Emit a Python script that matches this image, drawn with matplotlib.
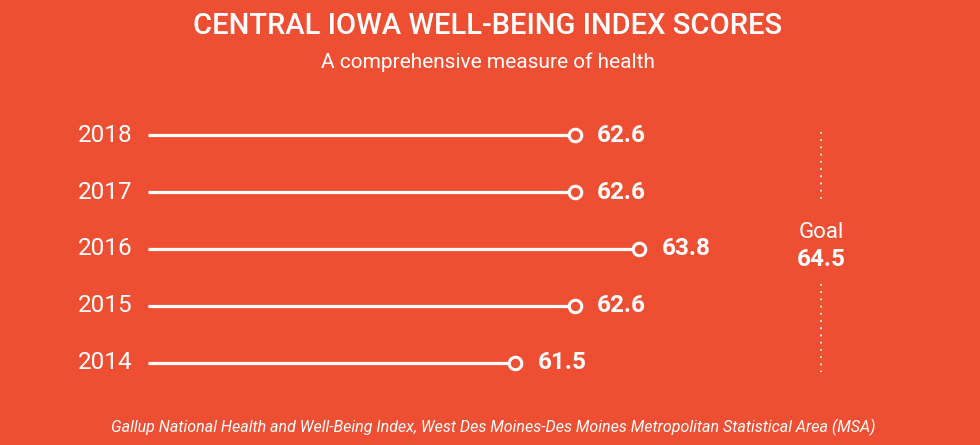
import matplotlib.pyplot as plt

# data
years = ["2014", "2015", "2016", "2017", "2018"]
scores = [61.5, 62.6, 63.8, 62.6, 62.6]
goal = 64.5

bg = "#EE4F32"
white = "#FFFFFF"

plt.rcParams["font.family"] = ["Roboto", "DejaVu Sans"]

fig = plt.figure(figsize=(9.8, 4.45), dpi=100)
fig.patch.set_facecolor(bg)
ax = fig.add_axes([0, 0, 1, 1])
ax.set_facecolor(bg)
ax.axis("off")

# scale so the lollipops sit roughly where they do in the original
ax.set_xlim(51.96, 70.11)
ax.set_ylim(-1.44, 6.37)
base = 54.7

ypos = list(range(len(years)))
ax.hlines(ypos, base, scores, color=white, lw=2.3)
ax.plot(scores, ypos, "o", ms=9, mfc=bg, mec=white, mew=2.2, zorder=3)

for y, yr, v in zip(ypos, years, scores):
    ax.text(base - 0.28, y, yr, ha="right", va="center", color=white,
            fontsize=17.5)
    ax.text(v + 0.42, y, f"{v}", ha="left", va="center", color=white,
            fontsize=17.5, fontweight="bold")

# goal marker on the right
gx = 821 / 980
ax.plot([gx, gx], [1 - 132 / 445, 1 - 200 / 445], transform=ax.transAxes,
        color=white, lw=1.3, ls=(0, (1, 3)))
ax.plot([gx, gx], [1 - 284 / 445, 1 - 372 / 445], transform=ax.transAxes,
        color=white, lw=1.3, ls=(0, (1, 3)))
ax.text(gx, 1 - 232 / 445, "Goal", transform=ax.transAxes, ha="center",
        va="center", color=white, fontsize=16)
ax.text(gx, 1 - 260 / 445, f"{goal}", transform=ax.transAxes, ha="center",
        va="center", color=white, fontsize=17.5, fontweight="bold")

fig.text(0.498, 1 - 26 / 445, "CENTRAL IOWA WELL-BEING INDEX SCORES",
         ha="center", va="center", color=white, fontsize=21, fontweight="medium")
fig.text(0.498, 1 - 62 / 445, "A comprehensive measure of health",
         ha="center", va="center", color=white, fontsize=15)
fig.text(0.503, 1 - 427 / 445,
         "Gallup National Health and Well-Being Index, West Des Moines-Des Moines Metropolitan Statistical Area (MSA)",
         ha="center", va="center", color=white, fontsize=11.5, style="italic")

fig.savefig("out.png", dpi=100, facecolor=bg)
